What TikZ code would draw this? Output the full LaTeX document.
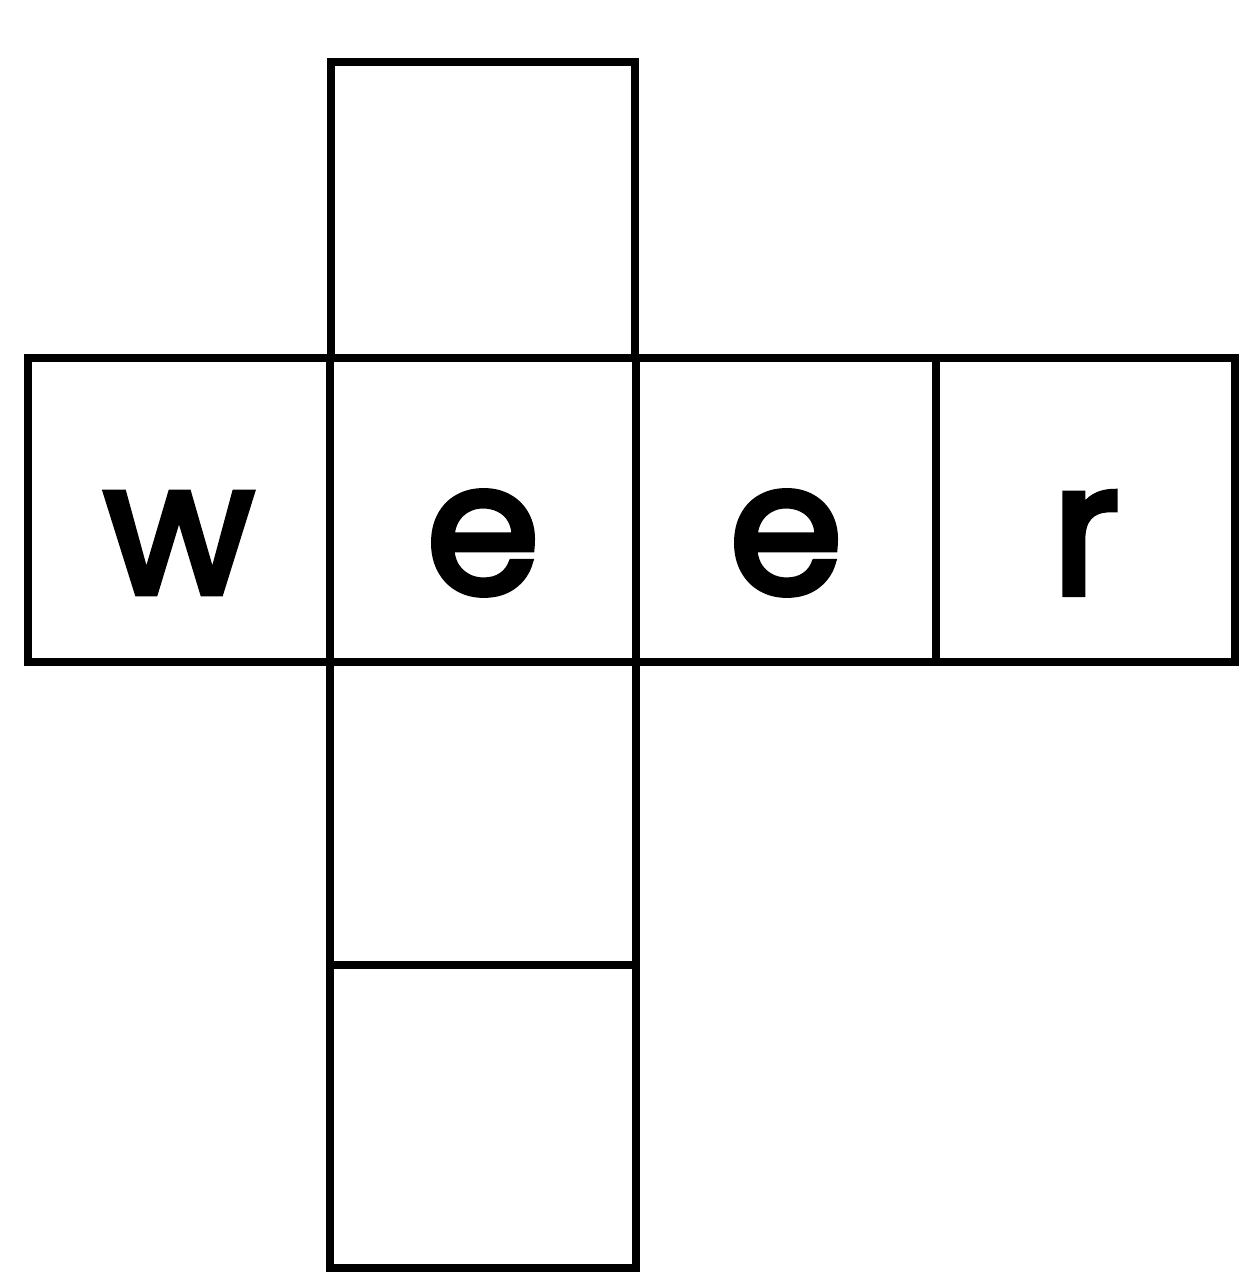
\documentclass[tikz,border=0pt]{standalone}
\usepackage{fontspec}
\setmainfont{Poppins}
\newfontfamily\cubefont{Poppins}[FakeBold=3.5]
\usetikzlibrary{positioning}

\begin{document}
\begin{tikzpicture}[scale=1.0,
  cell/.style={draw,line width=2.1pt,rectangle,minimum width=3.04cm,minimum height=3.04cm,inner sep=0pt},
  letter/.style={inner sep=0pt,font=\cubefont\fontsize{52}{58}\selectfont}]

\useasboundingbox (0,0) rectangle (12.38,12.74);

\node[cell,minimum height=2.96cm] (top) at (4.83,10.64) {};
\node[cell,minimum width=3.02cm] (cw) at (1.79,7.64) {};
\node[cell,minimum width=3.06cm] (ce1) at (4.83,7.64) {};
\node[cell,minimum width=3.00cm] (ce2) at (7.86,7.64) {};
\node[cell,minimum width=2.99cm] (cr) at (10.855,7.64) {};
\node[cell,minimum width=3.06cm,minimum height=3.03cm] (bot1) at (4.83,4.605) {};
\node[cell,minimum width=3.06cm,minimum height=3.03cm] (bot2) at (4.83,1.575) {};

\node[letter] (lw) at ([yshift=-3.3mm]cw.center) {w};
\node[letter] (le1) at ([yshift=-3.3mm]ce1.center) {e};
\node[letter] (le2) at ([yshift=-3.3mm]ce2.center) {e};
\node[letter] (lr) at ([yshift=-3.3mm]cr.center) {r};

\end{tikzpicture}
\end{document}
